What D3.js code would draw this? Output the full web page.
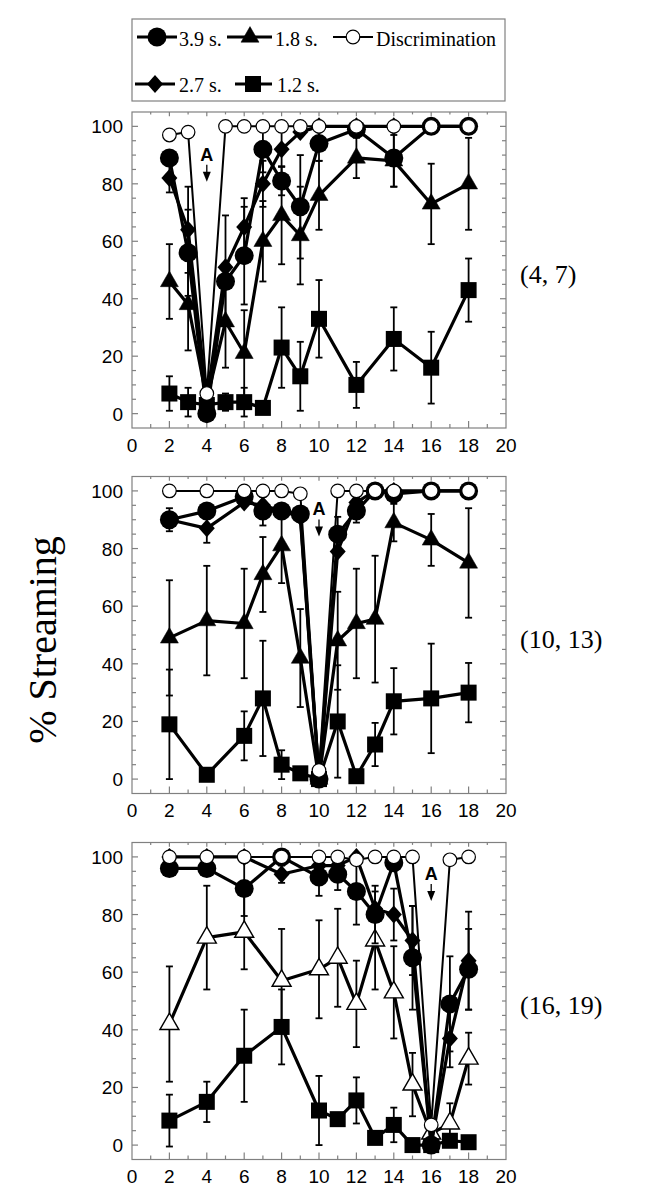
<!DOCTYPE html>
<html><head><meta charset="utf-8">
<script src="https://cdn.jsdelivr.net/npm/d3@7"></script>
<style>body{margin:0;background:#fff}</style>
</head><body><svg id="c" width="652" height="1202"></svg>
<script>
// ---------- data ----------
const xTickVals = [0,2,4,6,8,10,12,14,16,18,20];
const yTickVals = [0,20,40,60,80,100];
const panelLabels = ["(4, 7)", "(10, 13)", "(16, 19)"];
const legendNames = ["3.9 s.", "1.8 s.", "Discrimination", "2.7 s.", "1.2 s."];
const yTitle = "% Streaming";
const annotText = "A";
const annotX = [4, 10, 16];
const annotY = [88, 91.5, 92];

// panel 1 (4, 7)
const p1X        = [2,3,4,5,6,7,8,9,10,12,14,16,18];
const p1Circle   = [89,56,0,46,55,92,81,72,94,99,89,100,100];
const p1CircleE  = [0,15,0,0,17,8,5,18,6,2,10,0,0];
const p1Diamond  = [82,64,5,51,65,80,92,98,100,100,100,100,100];
const p1DiamondE = [5,15,0,18,10,8,6,0,0,0,0,0,0];
const p1Tri      = [46,38,5,32,21,60,69,62,76,89,88,73,80];
const p1TriE     = [13,16,0,16,15,14,17,17,12,7,9,14,16];
const p1Square   = [7,4,3,4,4,2,23,13,33,10,26,16,43];
const p1SquareE  = [6,5,0,3,5,0,14,12,13.5,8,11,12.5,11];
const p1Disc     = [97,98,7,100,100,100,100,100,100,100,100,100,100];

// panel 2 (10, 13)
const p2X        = [2,4,6,7,8,9,10,11,12,13,14,16,18];
const p2Circle   = [90,93,98,93,93,92,0,85,93,100,99,100,100];
const p2CircleE  = [4,0,0,5,0,0,0,6,4,0,0,0,0];
const p2Diamond  = [90,87,96,95,93,91,0,79,96,100,100,100,100];
const p2DiamondE = [0,5,0,0,0,0,0,0,0,0,0,0,0];
const p2Tri      = [49,55,54,71,81,42,0,48,54,55.5,89,83,75];
const p2TriE     = [20,19,19,13,13,17,0,17,19,22,6.5,9,19];
const p2Square   = [19,1.5,15,28,5,2,0,20,1,12,27,28,30];
const p2SquareE  = [19,0,8.5,20,5,0,0,19.5,0,7.5,11.5,19,10.3];
const p2Disc     = [100,100,100,100,100,99,3,100,100,100,100,100,100];

// panel 3 (16, 19)
const p3X        = [2,4,6,8,10,11,12,13,14,15,16,17,18];
const p3Circle   = [96,96,89,100,93,94,88,80,98,65,0,49,61];
const p3CircleE  = [0,0,9.5,0,6.5,5.5,11.5,10,0,18,0,16.5,14];
const p3Diamond  = [100,100,100,94,97,97,100,82,80,71,0,37,64];
const p3DiamondE = [0,0,0,3,0,0,0,0,9,12,0,10,17];
const p3Tri      = [42,72,74,57,61,65,49,71,53,21,4,7.5,30];
const p3TriE     = [20,18,13,18,17,17,15,17,16,11,0,7,9];
const p3Square   = [8.5,15,31,41,12,9,15.5,2.5,7,0,0,1.5,1];
const p3SquareE  = [9,7,16,13,12,0,8,0,6,0,0,0,0];
const p3Disc     = [100,100,100,100,100,100,99,100,100,100,7,99,100];

// ---------- drawing ----------
const svg = d3.select("#c");
const AX = "#808080";
const sans = "'Liberation Sans', Arial, sans-serif";
const serif = "'Liberation Serif', 'Times New Roman', serif";

const x = d3.scaleLinear().domain([0,20]).range([132,506]);
const panelBox = [[112,428],[476.5,793.5],[842.5,1159.5]];

function marker(g, type, cx, cy) {
  if (type === "circle") {
    g.append("circle").attr("cx",cx).attr("cy",cy).attr("r",9.5).attr("fill","#000");
  } else if (type === "disc") {
    g.append("circle").attr("cx",cx).attr("cy",cy).attr("r",6.8).attr("fill","#fff").attr("stroke","#000").attr("stroke-width",1.2);
  } else if (type === "square") {
    g.append("rect").attr("x",cx-8).attr("y",cy-8).attr("width",16).attr("height",16).attr("fill","#000");
  } else if (type === "tri" || type === "otri") {
    const s = type === "tri" ? 18 : 19, h = s*Math.sqrt(3)/2;
    g.append("path").attr("d",`M${cx},${cy-h*2/3}L${cx+s/2},${cy+h/3}L${cx-s/2},${cy+h/3}Z`)
      .attr("fill", type === "tri" ? "#000" : "#fff")
      .attr("stroke","#000").attr("stroke-width", type === "tri" ? 0.5 : 1.4);
  } else if (type === "diamond") {
    g.append("path").attr("d",`M${cx},${cy-9}L${cx+8},${cy}L${cx},${cy+9}L${cx-8},${cy}Z`).attr("fill","#000");
  }
}

const panels = [
  {xs:p1X, series:[[p1Square,p1SquareE,"square"],[p1Tri,p1TriE,"tri"],[p1Diamond,p1DiamondE,"diamond"],[p1Circle,p1CircleE,"circle"],[p1Disc,null,"disc"]]},
  {xs:p2X, series:[[p2Square,p2SquareE,"square"],[p2Tri,p2TriE,"tri"],[p2Diamond,p2DiamondE,"diamond"],[p2Circle,p2CircleE,"circle"],[p2Disc,null,"disc"]]},
  {xs:p3X, series:[[p3Square,p3SquareE,"square"],[p3Tri,p3TriE,"otri"],[p3Diamond,p3DiamondE,"diamond"],[p3Circle,p3CircleE,"circle"],[p3Disc,null,"disc"]]}
];

panels.forEach((p, pi) => {
  const [top, bot] = panelBox[pi];
  const y = d3.scaleLinear().domain([-5,105]).range([bot, top]);
  const g = svg.append("g");
  // frame
  g.append("rect").attr("x",x(0)).attr("y",top).attr("width",x(20)-x(0)).attr("height",bot-top)
    .attr("fill","none").attr("stroke",AX).attr("stroke-width",1.2);
  // y ticks every 5 (left and right, inward)
  d3.range(0,101,5).forEach(v => {
    const L = v % 20 === 0 ? 6 : 4;
    g.append("line").attr("x1",x(0)).attr("x2",x(0)+L).attr("y1",y(v)).attr("y2",y(v)).attr("stroke",AX).attr("stroke-width",1.2);
    g.append("line").attr("x1",x(20)).attr("x2",x(20)-L).attr("y1",y(v)).attr("y2",y(v)).attr("stroke",AX).attr("stroke-width",1.2);
  });
  // x ticks every 1 (bottom and top, inward)
  d3.range(1,20,1).forEach(v => {
    const L = v % 2 === 0 ? 7 : 4;
    g.append("line").attr("x1",x(v)).attr("x2",x(v)).attr("y1",bot).attr("y2",bot-L).attr("stroke",AX).attr("stroke-width",1.2);
    g.append("line").attr("x1",x(v)).attr("x2",x(v)).attr("y1",top).attr("y2",top+L*0.6).attr("stroke",AX).attr("stroke-width",1.2);
  });
  // labels
  g.selectAll(".yl").data(yTickVals).enter().append("text")
    .attr("x",123).attr("y",d=>y(d)+7).attr("text-anchor","end")
    .attr("font-family",sans).attr("font-size",19).text(d=>d);
  g.selectAll(".xl").data(xTickVals).enter().append("text")
    .attr("x",d=>x(d)).attr("y",bot+23.5).attr("text-anchor","middle")
    .attr("font-family",sans).attr("font-size",19).text(d=>d);
  // series
  const line = d3.line().x(d=>x(d[0])).y(d=>y(d[1]));
  p.series.forEach(([vals, errs, type]) => {
    const sg = g.append("g");
    const pts = p.xs.map((xv,i)=>[xv, vals[i], errs ? errs[i] : 0]);
    pts.forEach(([xv,v,e]) => {
      if (e > 0) {
        const cx = x(xv);
        sg.append("line").attr("x1",cx).attr("x2",cx).attr("y1",y(v+e)).attr("y2",y(v-e)).attr("stroke","#000").attr("stroke-width",1.8);
        [v+e, v-e].forEach(t => sg.append("line").attr("x1",cx-3.5).attr("x2",cx+3.5).attr("y1",y(t)).attr("y2",y(t)).attr("stroke","#000").attr("stroke-width",1.8));
      }
    });
    sg.append("path").attr("d", line(pts)).attr("fill","none").attr("stroke","#000")
      .attr("stroke-width", type === "disc" ? 2 : 3.2).attr("stroke-linejoin","round");
    pts.forEach(([xv,v]) => marker(sg, type, x(xv), y(v)));
  });
  // annotation A with arrow
  const ax = x(annotX[pi]), ay = y(annotY[pi]);
  g.append("text").attr("x",ax).attr("y",ay).attr("text-anchor","middle")
    .attr("font-family",sans).attr("font-weight","bold").attr("font-size",18).text(annotText);
  g.append("line").attr("x1",ax).attr("x2",ax).attr("y1",ay+4).attr("y2",ay+13).attr("stroke","#000").attr("stroke-width",1.3);
  g.append("path").attr("d",`M${ax-4},${ay+11}L${ax+4},${ay+11}L${ax},${ay+21}Z`).attr("fill","#000");
  // panel label
  g.append("text").attr("x",520).attr("y",(top+bot)/2+13).attr("font-family",serif).attr("font-size",26).text(panelLabels[pi]);
});

// y title
svg.append("text").attr("transform","translate(56,640) rotate(-90)").attr("text-anchor","middle")
  .attr("font-family",serif).attr("font-size",40).text(yTitle);

// legend
const lg = svg.append("g");
lg.append("rect").attr("x",132).attr("y",19).attr("width",373).attr("height",82).attr("fill","#fff").attr("stroke",AX).attr("stroke-width",1.2);
const legendItems = [
  {type:"circle", x1:137, x2:177, mx:157, tx:179, row:0, name:legendNames[0]},
  {type:"tri", x1:227, x2:272, mx:250, tx:275, row:0, name:legendNames[1]},
  {type:"disc", x1:333, x2:373, mx:353, tx:376, row:0, name:legendNames[2]},
  {type:"diamond", x1:135, x2:175, mx:155, tx:179, row:1, name:legendNames[3]},
  {type:"square", x1:235, x2:272, mx:253, tx:277, row:1, name:legendNames[4]}
];
const rowY = [37, 84], rowBase = [46, 92];
legendItems.forEach(it => {
  const ly = rowY[it.row];
  lg.append("line").attr("x1",it.x1).attr("x2",it.x2).attr("y1",ly).attr("y2",ly).attr("stroke","#000").attr("stroke-width", it.type==="disc"?2:3);
  marker(lg, it.type, it.mx, ly);
  lg.append("text").attr("x",it.tx).attr("y",rowBase[it.row]).attr("font-family",serif).attr("font-size",20).text(it.name);
});
</script></body></html>
